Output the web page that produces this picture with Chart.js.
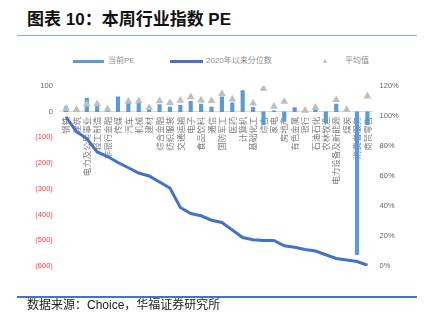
<!DOCTYPE html>
<html>
<head>
<meta charset="utf-8">
<script src="https://cdn.jsdelivr.net/npm/chart.js@4.4.0/dist/chart.umd.min.js"></script>
<style>
  body { margin: 0; background: #fff; width: 429px; height: 325px; overflow: hidden; position: relative;
         font-family: "Liberation Sans", "Noto Sans CJK SC", sans-serif; }
  #title { position: absolute; left: 27px; top: 9px; font-size: 17px; line-height: 22px; font-weight: bold; color: #111; }
  .rule { position: absolute; left: 17px; width: 400px; height: 1.5px; }
  .lg { position: absolute; font-size: 8px; line-height: 10px; top: 56px; color: #8c8c8c; white-space: nowrap; }
  .sw { position: absolute; }
  #source { position: absolute; left: 27px; top: 297px; font-size: 12px; line-height: 16px; color: #222; }
  canvas { position: absolute; left: 0; top: 0; }
</style>
</head>
<body>
<div id="title">图表 10：本周行业指数 PE</div>
<div class="rule" style="top:34.5px;background:#8faadc;"></div>

<div class="sw" style="left:73px;top:59.5px;width:31px;height:3.5px;background:#5b9bd5;"></div>
<div class="lg" style="left:108px;">当前PE</div>
<div class="sw" style="left:170px;top:59.5px;width:33px;height:3px;background:#4472c4;"></div>
<div class="lg" style="left:206px;">2020年以来分位数</div>
<div class="sw" style="left:322.5px;top:58.5px;width:0;height:0;border-left:2.5px solid transparent;border-right:2.5px solid transparent;border-bottom:4px solid #bfbfbf;"></div>
<div class="lg" style="left:345px;">平均值</div>

<canvas id="c" width="429" height="325"></canvas>

<div class="rule" style="top:296px;background:#4472c4;"></div>
<div id="source">数据来源：Choice，华福证券研究所</div>

<script>
// 行业
const industries = ['钢铁', '建筑', '电力及公用事业', '轻工制造', '非银行金融', '传媒', '汽车', '机械', '建材', '综合金融',
  '纺织服装', '交通运输', '电子', '食品饮料', '通信', '国防军工', '医药', '计算机', '基础化工', '综合',
  '家电', '房地产', '有色金属', '银行', '石油石化', '农林牧渔', '电力设备及新能源', '煤炭', '消费者服务', '商贸零售'];

// 当前PE
const currentPE = [20, 9, 53, 32, 12, 58, 35, 35, 8, 28,
  18, 25, 40, 30, 18, 58, 35, 82, 17, -50,
  3, -38, 16, 6, 10, -45, 30, 5, -556, -50];

// 平均值 (null = not shown)
const averagePE = [12, 8, 28, 30, 10, null, 41, 42, 15, 42,
  35, 44, 57, 45, 43, 70, 48, null, 33, 90,
  20, 40, null, 5, 16, null, 47, 8, null, 60];

// 2020年以来分位数
const percentile = [0.995, 0.895, 0.85, 0.76, 0.73, 0.69, 0.655, 0.62, 0.60, 0.56,
  0.52, 0.39, 0.35, 0.335, 0.305, 0.29, 0.24, 0.19, 0.175, 0.17,
  0.17, 0.135, 0.125, 0.11, 0.10, 0.075, 0.05, 0.04, 0.03, 0.005];

const leftTicks = { min: -600, max: 100, step: 100 };
const rightTicks = { min: 0, max: 1.2, step: 0.2 };

const tickFont = { family: '"Liberation Sans", "Noto Sans CJK SC", sans-serif', size: 7.5 };
const catFont = { family: '"Noto Sans CJK SC", sans-serif', size: 8.5 };

new Chart(document.getElementById('c'), {
  data: {
    labels: industries,
    datasets: [
      {
        type: 'line',
        label: '2020年以来分位数',
        data: percentile,
        yAxisID: 'y1',
        borderColor: '#4472c4',
        borderWidth: 3,
        pointRadius: 0,
        tension: 0,
        order: 1
      },
      {
        type: 'line',
        label: '平均值',
        data: averagePE,
        yAxisID: 'y',
        showLine: false,
        pointStyle: 'triangle',
        pointRadius: 4.5,
        backgroundColor: '#bfbfbf',
        borderColor: '#bfbfbf',
        borderWidth: 0,
        order: 2
      },
      {
        type: 'bar',
        label: '当前PE',
        data: currentPE,
        yAxisID: 'y',
        backgroundColor: '#5b9bd5',
        barThickness: 3.5,
        order: 3
      }
    ]
  },
  options: {
    responsive: false,
    animation: false,
    devicePixelRatio: 1,
    layout: { padding: { left: 0, right: 0, top: 86, bottom: 59 } },
    plugins: { legend: { display: false }, tooltip: { enabled: false } },
    scales: {
      x: {
        type: 'category',
        position: { y: 0 },
        offset: true,
        grid: { display: false, drawTicks: false },
        border: { display: true, color: '#d9d9d9', width: 1 },
        ticks: { autoSkip: false, minRotation: 90, maxRotation: 90, padding: 5, font: catFont, color: '#7f7f7f' },
        afterFit(s) { s.height = 0; }
      },
      y: {
        position: 'left',
        min: leftTicks.min,
        max: leftTicks.max,
        grid: { display: false, drawTicks: false },
        border: { display: false },
        ticks: {
          stepSize: leftTicks.step,
          padding: 8,
          font: tickFont,
          color: c => c.tick.value < 0 ? '#ff3b3b' : '#666',
          callback: v => v < 0 ? '(' + (-v) + ')' : String(v)
        },
        afterFit(s) { s.width = 60.8; }
      },
      y1: {
        position: 'right',
        min: rightTicks.min,
        max: rightTicks.max,
        grid: { display: false, drawTicks: false },
        border: { display: false },
        ticks: {
          stepSize: rightTicks.step,
          padding: 7,
          font: tickFont,
          color: '#666',
          callback: v => Math.round(v * 100) + '%'
        },
        afterFit(s) { s.width = 56.4; }
      }
    }
  }
});
</script>
</body>
</html>
